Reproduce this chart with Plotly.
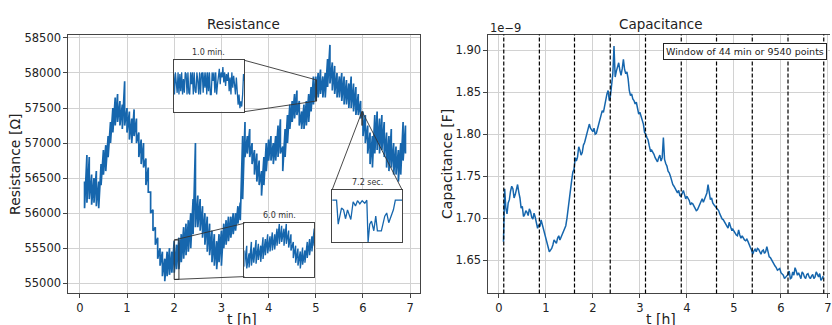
import numpy as np
import plotly.graph_objects as go

W, H = 832, 325

# ---------------- data ----------------
# Resistance: upper / lower envelope of the noisy band, sampled every 0.05 h from t = 0.10 h
res_t_start, res_t_step = 0.10, 0.05
res_hi = [56450, 56830, 56800, 56550, 56500, 56600, 56450, 56700, 56900, 56970,
          57100, 57300, 57500, 57650, 57700, 57600, 57550, 57880, 57500, 57450,
          57350, 57480, 57350, 57150, 57050, 57000, 56780, 56650, 56300, 56050,
          55800, 55650, 55500, 55450, 55350, 55450, 55500, 55450, 55600, 55550,
          55650, 55700, 55800, 55850, 55900, 56000, 56200, 57000, 56250, 56200,
          56100, 56000, 55950, 55850, 55750, 55700, 55600, 55700, 55750, 55850,
          55900, 55950, 55950, 56000, 56000, 56100, 56150, 57100, 57300, 57100,
          57200, 57000, 56900, 56850, 56750, 56600, 56800, 57000, 57050, 57100,
          57000, 57100, 57250, 57340, 56950, 57200, 57400, 57550, 57600, 57700,
          57750, 57600, 57450, 57550, 57600, 57700, 57800, 57950, 57950, 58000,
          58050, 57950, 58000, 58200, 58400, 58150, 58100, 58000, 57950, 58000,
          57950, 57900, 57850, 57950, 57850, 57800, 57700, 57600, 57450, 57400,
          57250, 57150, 57100, 57400, 57450, 57350, 57400, 57300, 57150, 57100,
          57200, 57000, 56950, 56900, 57000, 57300, 57250]
res_lo = [56070, 56150, 56200, 56120, 56150, 56100, 56070, 56400, 56550, 56600,
          56800, 57000, 57150, 57250, 57300, 57250, 57200, 57250, 57150, 57050,
          57000, 57100, 57000, 56800, 56700, 56650, 56400, 56300, 56000, 55750,
          55550, 55350, 55250, 55100, 55030, 55100, 55120, 55150, 55150, 55200,
          55200, 55300, 55350, 55400, 55450, 55500, 55700, 55800, 55800, 55750,
          55650, 55550, 55450, 55400, 55300, 55250, 55200, 55300, 55250, 55500,
          55550, 55600, 55650, 55700, 55750, 55850, 55900, 56200, 56800, 56850,
          56800, 56700, 56550, 56450, 56400, 56250, 56400, 56600, 56750, 56750,
          56700, 56750, 56800, 56850, 56600, 56800, 57000, 57200, 57300, 57350,
          57400, 57250, 57200, 57200, 57250, 57300, 57450, 57550, 57600, 57650,
          57700, 57650, 57650, 57800, 57850, 57750, 57700, 57650, 57650, 57600,
          57550, 57550, 57500, 57500, 57450, 57400, 57400, 57350, 57100, 57000,
          56850, 56700, 56650, 56850, 56900, 56850, 56900, 56800, 56650, 56600,
          56650, 56550, 56550, 56450, 56550, 56750, 56850]

# Capacitance (units of 1e-9 F), sampled every 0.05 h from t = 0.10 h,
# plus readings half-way between those samples
cap_t_start, cap_t_step = 0.10, 0.05
cap_nf = [1.672, 1.712, 1.718, 1.732, 1.735, 1.728, 1.740, 1.724, 1.714, 1.704,
          1.707, 1.711, 1.701, 1.706, 1.695, 1.692, 1.698, 1.686, 1.677, 1.666,
          1.662, 1.668, 1.672, 1.676, 1.674, 1.680, 1.688, 1.700, 1.728, 1.745,
          1.758, 1.768, 1.785, 1.775, 1.787, 1.796, 1.809, 1.807, 1.803, 1.800,
          1.806, 1.815, 1.828, 1.835, 1.848, 1.840, 1.860, 1.905, 1.875, 1.885,
          1.870, 1.889, 1.872, 1.866, 1.846, 1.842, 1.836, 1.830, 1.826, 1.816,
          1.802, 1.796, 1.786, 1.781, 1.776, 1.770, 1.772, 1.768, 1.796, 1.765,
          1.756, 1.750, 1.740, 1.735, 1.730, 1.727, 1.731, 1.728, 1.726, 1.721,
          1.718, 1.714, 1.709, 1.713, 1.720, 1.719, 1.726, 1.740, 1.722, 1.718,
          1.714, 1.710, 1.705, 1.699, 1.695, 1.690, 1.695, 1.686, 1.684, 1.680,
          1.686, 1.676, 1.676, 1.673, 1.672, 1.665, 1.657, 1.663, 1.664, 1.659,
          1.661, 1.658, 1.666, 1.654, 1.650, 1.644, 1.641, 1.639, 1.635, 1.632,
          1.630, 1.633, 1.628, 1.636, 1.641, 1.632, 1.630, 1.636, 1.630, 1.633,
          1.630, 1.631, 1.628, 1.636, 1.630, 1.626, 1.631]
cap_mid_nf = [1.735, 1.705, 1.722, 1.738, 1.724, 1.736, 1.731, 1.712, 1.702, 1.709,
              1.703, 1.708, 1.699, 1.701, 1.688, 1.690, 1.693, 1.681, 1.670, 1.660,
              1.664, 1.674, 1.670, 1.679, 1.677, 1.683, 1.691, 1.712, 1.735, 1.755,
              1.772, 1.773, 1.781, 1.778, 1.790, 1.800, 1.812, 1.804, 1.807, 1.801,
              1.812, 1.820, 1.826, 1.840, 1.852, 1.846, 1.872, 1.868, 1.880, 1.876,
              1.878, 1.877, 1.874, 1.852, 1.848, 1.840, 1.838, 1.824, 1.822, 1.812,
              1.800, 1.793, 1.780, 1.779, 1.772, 1.767, 1.775, 1.772, 1.770, 1.762,
              1.754, 1.744, 1.738, 1.732, 1.733, 1.726, 1.733, 1.723, 1.724, 1.716,
              1.717, 1.711, 1.710, 1.716, 1.723, 1.722, 1.730, 1.728, 1.724, 1.716,
              1.712, 1.709, 1.701, 1.698, 1.692, 1.688, 1.690, 1.687, 1.682, 1.679,
              1.680, 1.679, 1.674, 1.675, 1.667, 1.662, 1.661, 1.660, 1.663, 1.657,
              1.662, 1.660, 1.659, 1.653, 1.648, 1.643, 1.638, 1.640, 1.634, 1.628,
              1.631, 1.637, 1.629, 1.632, 1.637, 1.635, 1.628, 1.634, 1.628, 1.634,
              1.628, 1.633, 1.630, 1.632, 1.634, 1.628]

window_edges_h = [0.106, 0.863, 1.61, 2.37, 3.12, 3.88, 4.63, 5.39, 6.15, 6.91]
window_label = "Window of 44 min or 9540 points"

# Inset 1: 1.0 min around t = 5.0 h (values in Ohm, 60 s)
inset1_t0_h, inset1_len_s = 5.0, 60.0
inset1_ylim = [57600, 57900]
inset1_vals = [57820, 57700, 57830, 57760, 57710, 57830, 57700, 57820, 57720, 57830,
               57700, 57790, 57710, 57830, 57820, 57700, 57830, 57710, 57700, 57830,
               57760, 57830, 57700, 57830, 57720, 57710, 57830, 57780, 57700, 57830,
               57700, 57820, 57830, 57710, 57830, 57740, 57830, 57700, 57830, 57720,
               57830, 57700, 57700, 57830, 57780, 57830, 57710, 57830, 57700, 57760,
               57830, 57850, 57760, 57830, 57800, 57860, 57770, 57830, 57750, 57820,
               57780, 57830, 57720, 57800, 57700, 57830, 57740, 57810, 57760, 57700,
               57800, 57720, 57640, 57700, 57620, 57660, 57630, 57700, 57820, 57780]

# Inset 2: 6.0 min from t = 2.0 h (envelope every 0.2 min, Ohm)
inset2_t0_h, inset2_len_min = 2.0, 6.0
inset2_ylim = [55054, 55617]
inset2_hi = [55330, 55380, 55300, 55420, 55360, 55440, 55400, 55380, 55470, 55450,
             55500, 55480, 55520, 55500, 55560, 55610, 55590, 55560, 55610, 55540,
             55500, 55420, 55380, 55350, 55320, 55360, 55330, 55420, 55450, 55480, 55560]
inset2_lo = [55160, 55140, 55150, 55170, 55200, 55190, 55230, 55210, 55240, 55280,
             55300, 55320, 55330, 55340, 55380, 55400, 55420, 55380, 55400, 55360,
             55330, 55250, 55200, 55170, 55140, 55180, 55200, 55250, 55280, 55320, 55380]

# Inset 3: 7.2 s around t = 5.98 h
inset3_t0_h, inset3_len_s = 5.98, 7.2
inset3_ylim = [57250, 57450]
inset3_sec = [0.0, 0.45, 0.62, 0.96, 1.17, 1.37, 1.58, 1.92, 2.16, 2.40, 2.61, 2.85,
              3.09, 3.36, 3.57, 3.70, 3.87, 4.05, 4.29, 4.49, 4.66, 5.07, 5.42, 5.62,
              5.83, 6.03, 6.31, 6.51, 7.2]
inset3_vals = [57410, 57410, 57318, 57380, 57373, 57339, 57373, 57336, 57404, 57388,
               57408, 57396, 57408, 57398, 57410, 57250, 57318, 57330, 57293, 57349,
               57293, 57293, 57349, 57361, 57324, 57343, 57373, 57410, 57410]

# ---------------- layout geometry ----------------
FONT = "DejaVu Sans"
BLUE = "#1666ad"
FRAME = "#444444"
GRID = "#d2d2d2"
TXT = "#222222"

def px_x(p):
    return p / W

def px_y(p):
    return 1 - p / H

main_dom_x = [px_x(68), px_x(421)]
main_dom_y = [px_y(293), px_y(31)]
main_rx = [-0.254, 7.208]
main_ry = [54855, 58547]
cap_dom_x = [px_x(489), 1.0]
cap_rx = [-0.233, 7.043]
cap_ry = [1.6104, 1.9185]

in1_dom = ([px_x(174), px_x(245)], [px_y(109), px_y(57)])
in2_dom = ([px_x(245), px_x(315)], [px_y(276), px_y(222)])
in3_dom = ([px_x(333), px_x(403)], [px_y(241), px_y(188)])

def paper_to_main(xf, yf):
    xd = main_rx[0] + (xf - main_dom_x[0]) / (main_dom_x[1] - main_dom_x[0]) * (main_rx[1] - main_rx[0])
    yd = main_ry[0] + (yf - main_dom_y[0]) / (main_dom_y[1] - main_dom_y[0]) * (main_ry[1] - main_ry[0])
    return xd, yd

fig = go.Figure()

# main resistance trace (zig-zag between envelope readings)
rt = res_t_start + res_t_step * np.arange(len(res_hi))
rx = np.repeat(rt, 2)
ry = np.empty(2 * len(res_hi))
ry[0::2] = res_hi
ry[1::2] = res_lo
fig.add_trace(go.Scatter(x=rx, y=ry, mode="lines", line=dict(color=BLUE, width=1.7),
                         xaxis="x", yaxis="y", showlegend=False, hoverinfo="skip"))

# capacitance: samples interleaved with the half-way readings
ct = cap_t_start + cap_t_step * np.arange(len(cap_nf))
n_mid = min(len(cap_mid_nf), len(cap_nf) - 1)
cx, cy = [], []
for i in range(len(cap_nf)):
    cx.append(ct[i]); cy.append(cap_nf[i])
    if i < n_mid:
        cx.append(ct[i] + cap_t_step / 2); cy.append(cap_mid_nf[i])
fig.add_trace(go.Scatter(x=cx, y=cy, mode="lines", line=dict(color=BLUE, width=1.5),
                         xaxis="x2", yaxis="y2", showlegend=False, hoverinfo="skip"))

# inset 1
i1x = np.linspace(0, inset1_len_s, len(inset1_vals))
fig.add_trace(go.Scatter(x=i1x, y=inset1_vals, mode="lines", line=dict(color=BLUE, width=1.3),
                         xaxis="x3", yaxis="y3", showlegend=False, hoverinfo="skip"))
# inset 2
i2t = np.linspace(0, inset2_len_min, len(inset2_hi))
i2x = np.repeat(i2t, 2)
i2y = np.empty(2 * len(inset2_hi))
i2y[0::2] = inset2_hi
i2y[1::2] = inset2_lo
fig.add_trace(go.Scatter(x=i2x, y=i2y, mode="lines", line=dict(color=BLUE, width=1.4),
                         xaxis="x4", yaxis="y4", showlegend=False, hoverinfo="skip"))
# inset 3
fig.add_trace(go.Scatter(x=inset3_sec, y=inset3_vals, mode="lines", line=dict(color=BLUE, width=1.3),
                         xaxis="x5", yaxis="y5", showlegend=False, hoverinfo="skip"))

tickfont = dict(family=FONT, size=11.5, color=TXT)
common = dict(showline=True, linecolor=FRAME, linewidth=1, ticks="outside", ticklen=3.5,
              tickcolor=FRAME, tickfont=tickfont, showgrid=True, gridcolor=GRID, gridwidth=1,
              zeroline=False, ticklabeloverflow="allow")

inset_ax = dict(showline=True, mirror=True, linecolor=FRAME, linewidth=1, showticklabels=False,
                ticks="", showgrid=False, zeroline=False)

fig.update_layout(
    width=W, height=H, margin=dict(l=0, r=0, t=0, b=0),
    paper_bgcolor="white", plot_bgcolor="white",
    font=dict(family=FONT, color=TXT),
    xaxis=dict(domain=main_dom_x, range=main_rx, anchor="y", mirror=True,
               tickvals=list(range(0, 8)), **common),
    yaxis=dict(domain=main_dom_y, range=main_ry, anchor="x", mirror=True,
               tickvals=list(range(55000, 58501, 500)), tickformat="d", **common),
    xaxis2=dict(domain=cap_dom_x, range=cap_rx, anchor="y2", mirror=True,
                tickvals=list(range(0, 8)), **common),
    yaxis2=dict(domain=main_dom_y, range=cap_ry, anchor="x2", mirror=False,
                tickvals=[1.65, 1.70, 1.75, 1.80, 1.85, 1.90], tickformat=".2f", **common),
    xaxis3=dict(domain=in1_dom[0], range=[0, inset1_len_s], anchor="y3", **inset_ax),
    yaxis3=dict(domain=in1_dom[1], range=inset1_ylim, anchor="x3", **inset_ax),
    xaxis4=dict(domain=in2_dom[0], range=[0, inset2_len_min], anchor="y4", **inset_ax),
    yaxis4=dict(domain=in2_dom[1], range=inset2_ylim, anchor="x4", **inset_ax),
    xaxis5=dict(domain=in3_dom[0], range=[0, inset3_len_s], anchor="y5", **inset_ax),
    yaxis5=dict(domain=in3_dom[1], range=inset3_ylim, anchor="x5", **inset_ax),
)

shapes = []
# white backgrounds of insets
for k in ("3", "4", "5"):
    shapes.append(dict(type="rect", xref=f"x{k} domain", yref=f"y{k} domain", x0=0, x1=1, y0=0, y1=1,
                       fillcolor="white", line=dict(width=0), layer="below"))
# dashed window lines
for e in window_edges_h:
    shapes.append(dict(type="line", xref="x2", yref="y2 domain", x0=e, x1=e, y0=0, y1=1,
                       line=dict(color="black", width=1.2, dash="4px,2px")))

# inset regions and connectors on main axes
conn = dict(color="#333333", width=0.9)
r1 = (inset1_t0_h, inset1_t0_h + inset1_len_s / 3600.0, inset1_ylim[0], inset1_ylim[1])
r2 = (inset2_t0_h, inset2_t0_h + inset2_len_min / 60.0, inset2_ylim[0], inset2_ylim[1])
r3 = (inset3_t0_h, inset3_t0_h + inset3_len_s / 3600.0, inset3_ylim[0], inset3_ylim[1])
for r in (r1, r2, r3):
    shapes.append(dict(type="rect", xref="x", yref="y", x0=r[0], x1=r[1], y0=r[2], y1=r[3],
                       line=dict(color="#333333", width=1)))

def corner(dom, cx_, cy_):
    return paper_to_main(dom[0][cx_], dom[1][cy_])

for cyi, ry_ in ((1, r1[3]), (0, r1[2])):
    bx, by = corner(in1_dom, 1, cyi)
    shapes.append(dict(type="line", xref="x", yref="y", x0=bx, y0=by, x1=r1[1], y1=ry_, line=conn))
for cyi, ry_ in ((1, r2[3]), (0, r2[2])):
    bx, by = corner(in2_dom, 0, cyi)
    shapes.append(dict(type="line", xref="x", yref="y", x0=bx, y0=by, x1=r2[0], y1=ry_, line=conn))
for cxi, rx_ in ((0, r3[0]), (1, r3[1])):
    bx, by = corner(in3_dom, cxi, 1)
    shapes.append(dict(type="line", xref="x", yref="y", x0=bx, y0=by, x1=rx_, y1=r3[3], line=conn))

fig.update_layout(shapes=shapes)

ann = []
ann.append(dict(text="Resistance", xref="x domain", yref="paper", x=0.5, y=px_y(20.5),
                xanchor="center", yanchor="middle", showarrow=False, font=dict(size=13.5, family=FONT, color=TXT)))
ann.append(dict(text="Capacitance", xref="paper", yref="paper", x=px_x(663), y=px_y(20.5),
                xanchor="center", yanchor="middle", showarrow=False, font=dict(size=13.5, family=FONT, color=TXT)))
ann.append(dict(text="Resistance [Ω]", xref="paper", yref="paper", x=px_x(15), y=px_y(162),
                xanchor="center", yanchor="middle", textangle=-90, showarrow=False,
                font=dict(size=14, family=FONT, color=TXT)))
ann.append(dict(text="Capacitance [F]", xref="paper", yref="paper", x=px_x(448), y=px_y(162),
                xanchor="center", yanchor="middle", textangle=-90, showarrow=False,
                font=dict(size=14, family=FONT, color=TXT)))
ann.append(dict(text="t [h]", xref="paper", yref="paper", x=px_x(243), y=px_y(319),
                xanchor="center", yanchor="middle", showarrow=False, font=dict(size=14, family=FONT, color=TXT)))
ann.append(dict(text="t [h]", xref="paper", yref="paper", x=px_x(663), y=px_y(319),
                xanchor="center", yanchor="middle", showarrow=False, font=dict(size=14, family=FONT, color=TXT)))
ann.append(dict(text="1e−9", xref="paper", yref="paper", x=px_x(489), y=px_y(24),
                xanchor="left", yanchor="middle", showarrow=False, font=dict(size=11.5, family=FONT, color=TXT)))
ann.append(dict(text=window_label, xref="paper", yref="paper", x=px_x(829), y=px_y(48),
                xanchor="right", yanchor="middle", showarrow=False, bgcolor="white",
                bordercolor="#222222", borderwidth=1, borderpad=2,
                font=dict(size=9.5, family=FONT, color=TXT)))
for k, lab in (("3", "1.0 min."), ("4", "6.0 min."), ("5", "7.2 sec.")):
    ann.append(dict(text=lab, xref=f"x{k} domain", yref=f"y{k} domain", x=0.5, y=1,
                    xanchor="center", yanchor="bottom", yshift=1, showarrow=False,
                    font=dict(size=8, family=FONT, color="#333333")))
fig.update_layout(annotations=ann)

fig.write_html("out.html", config={"displayModeBar": False},
               post_script="document.body.style.margin='0';document.body.style.overflow='hidden';")
